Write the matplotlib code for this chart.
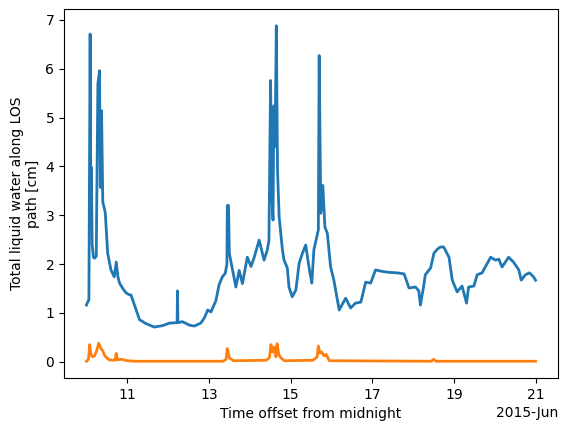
import numpy as np
import pandas as pd
import matplotlib
matplotlib.use("Agg")
import matplotlib.pyplot as plt
import matplotlib.dates as mdates

# day of June 2015 (fractional) and liquid water path [cm]
blue_day = [10.00, 10.03, 10.06, 10.09, 10.11, 10.12, 10.14, 10.17, 10.20, 10.24,
            10.28, 10.32, 10.34, 10.37, 10.40, 10.46, 10.52, 10.60, 10.68, 10.73,
            10.77, 10.81, 10.89, 10.97, 11.05, 11.09, 11.20, 11.30, 11.46, 11.66,
            11.87, 12.03, 12.22, 12.23, 12.24, 12.35, 12.52, 12.64, 12.80, 12.89,
            12.97, 13.05, 13.17, 13.25, 13.33, 13.40, 13.44, 13.45, 13.48, 13.50,
            13.55, 13.66, 13.74, 13.82, 13.94, 14.03, 14.11, 14.23, 14.35, 14.43,
            14.47, 14.51, 14.54, 14.57, 14.59, 14.62, 14.65, 14.68, 14.72, 14.80,
            14.84, 14.92, 14.96, 15.04, 15.13, 15.21, 15.29, 15.37, 15.45, 15.52,
            15.57, 15.68, 15.70, 15.74, 15.79, 15.84, 15.90, 15.98, 16.06, 16.19,
            16.35, 16.47, 16.59, 16.72, 16.84, 16.96, 17.08, 17.24, 17.41, 17.61,
            17.78, 17.90, 18.06, 18.14, 18.18, 18.26, 18.30, 18.43, 18.51, 18.59,
            18.67, 18.75, 18.88, 18.96, 19.08, 19.20, 19.31, 19.36, 19.49, 19.57,
            19.69, 19.77, 19.90, 20.02, 20.10, 20.18, 20.34, 20.46, 20.59, 20.65,
            20.75, 20.85, 20.95, 21.00]
blue_val = [1.16, 1.22, 1.27, 6.71, 2.76, 3.98, 2.40, 2.14, 2.12, 2.16,
            5.69, 5.96, 3.57, 5.14, 3.27, 3.06, 2.22, 1.88, 1.74, 2.04,
            1.74, 1.61, 1.50, 1.41, 1.37, 1.37, 1.10, 0.86, 0.78, 0.71,
            0.74, 0.79, 0.80, 1.45, 0.80, 0.82, 0.75, 0.73, 0.79, 0.90,
            1.06, 1.02, 1.25, 1.58, 1.74, 1.81, 2.00, 3.20, 3.20, 2.22,
            2.00, 1.53, 1.87, 1.60, 2.14, 1.95, 2.14, 2.49, 2.08, 2.29,
            2.49, 5.76, 3.40, 2.90, 5.24, 4.40, 6.88, 3.92, 2.96, 2.29,
            2.08, 1.92, 1.53, 1.33, 1.47, 2.02, 2.22, 2.39, 1.94, 1.61,
            2.29, 2.70, 6.27, 3.04, 3.61, 2.76, 2.63, 1.94, 1.67, 1.06,
            1.30, 1.10, 1.20, 1.22, 1.63, 1.61, 1.88, 1.85, 1.83, 1.82,
            1.80, 1.51, 1.53, 1.45, 1.16, 1.55, 1.78, 1.92, 2.22, 2.30,
            2.35, 2.35, 2.14, 1.67, 1.43, 1.55, 1.20, 1.53, 1.55, 1.78,
            1.82, 1.94, 2.14, 2.08, 2.10, 1.94, 2.14, 2.04, 1.88, 1.67,
            1.78, 1.82, 1.74, 1.67]

orange_day = [10.00, 10.05, 10.08, 10.11, 10.15, 10.20, 10.26, 10.30, 10.35, 10.40,
              10.45, 10.50, 10.55, 10.70, 10.73, 10.76, 10.85, 11.00, 11.20, 13.35,
              13.42, 13.45, 13.50, 13.60, 14.40, 14.48, 14.52, 14.56, 14.60, 14.64,
              14.67, 14.71, 14.76, 14.85, 15.55, 15.65, 15.68, 15.72, 15.76, 15.82,
              15.87, 15.95, 18.45, 18.50, 18.56, 21.00]
orange_val = [0.01, 0.05, 0.35, 0.15, 0.10, 0.12, 0.25, 0.38, 0.28, 0.22,
              0.12, 0.08, 0.04, 0.03, 0.17, 0.04, 0.05, 0.02, 0.01, 0.01,
              0.05, 0.27, 0.08, 0.02, 0.03, 0.08, 0.35, 0.20, 0.30, 0.10,
              0.37, 0.15, 0.08, 0.02, 0.03, 0.10, 0.32, 0.18, 0.20, 0.12,
              0.15, 0.02, 0.01, 0.05, 0.01, 0.01]


def to_time(days):
    return pd.Timestamp("2015-06-01") + pd.to_timedelta(np.array(days) - 1, unit="D")


fig = plt.figure(figsize=(5.7, 4.32), dpi=100)
ax = fig.add_axes([64 / 570, 1 - 378 / 432, 494 / 570, 369 / 432])
ax.plot(to_time(blue_day), blue_val, color="#1f77b4", lw=2)
ax.plot(to_time(orange_day), orange_val, color="#ff7f0e", lw=2)

loc = mdates.AutoDateLocator()
ax.xaxis.set_major_locator(loc)
ax.xaxis.set_major_formatter(mdates.ConciseDateFormatter(loc))
ax.set_xlabel("Time offset from midnight")
ax.set_ylabel("Total liquid water along LOS\npath [cm]")

fig.savefig("out.png", dpi=100)
